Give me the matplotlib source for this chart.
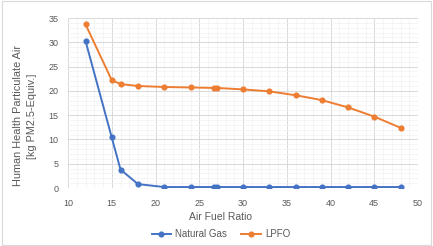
import matplotlib
matplotlib.use("Agg")
import matplotlib.pyplot as plt
from matplotlib.ticker import MultipleLocator

air_fuel = [12, 15, 16, 18, 21, 24, 26.7, 27, 30, 33, 36, 39, 42, 45, 48]
natural_gas = [30.3, 10.4, 3.8, 0.8, 0.2, 0.2, 0.2, 0.2, 0.2, 0.2, 0.2, 0.2, 0.2, 0.2, 0.2]
lpfo = [33.7, 22.2, 21.4, 21.0, 20.8, 20.7, 20.6, 20.6, 20.3, 19.9, 19.1, 18.1, 16.6, 14.7, 12.4]

plt.rcParams['font.family'] = ['Liberation Sans', 'DejaVu Sans']

fig = plt.figure(figsize=(4.33, 2.46), dpi=100)
fig.patch.set_facecolor('white')
ax = fig.add_axes([68/433, 1 - 188/246, 350/433, 170/246])

ax.plot(air_fuel, natural_gas, color='#4472c4', marker='o', markersize=3.4, linewidth=1.4, label='Natural Gas')
ax.plot(air_fuel, lpfo, color='#ed7d31', marker='o', markersize=3.4, linewidth=1.4, label='LPFO')

ax.set_xlim(10, 50)
ax.set_ylim(0, 35)
ax.xaxis.set_major_locator(MultipleLocator(5))
ax.yaxis.set_major_locator(MultipleLocator(5))
ax.xaxis.set_minor_locator(MultipleLocator(1))
ax.yaxis.set_minor_locator(MultipleLocator(1))
ax.grid(which='major', color='#d9d9d9', linewidth=0.7)
ax.grid(which='minor', color='#f2f2f2', linewidth=0.5)
ax.set_axisbelow(True)
for s in ax.spines.values():
    s.set_visible(False)
ax.tick_params(which='both', length=0, labelsize=6.5, colors='#595959')
ax.tick_params(axis='x', pad=8)
ax.tick_params(axis='y', pad=7)

fig.text(220/433, 1 - 217/246, 'Air Fuel Ratio', fontsize=7.5, color='#595959',
         ha='center', va='center')
fig.text(25/433, 1 - 116/246, 'Human Health Particulate Air\n[kg PM2.5-Equiv.]', fontsize=7.8,
         color='#595959', ha='center', va='center', rotation=90, linespacing=1.45,
         multialignment='center')

fig.legend(loc='center', bbox_to_anchor=(0.51, 1 - 234/246), ncol=2, frameon=False,
           fontsize=7, labelcolor='#595959', handlelength=2.0, columnspacing=1.5,
           borderaxespad=0, handletextpad=0.4)

border = plt.Rectangle((0.004, 0.004), 0.992, 0.99, transform=fig.transFigure, fill=False,
                       edgecolor='#d9d9d9', linewidth=0.8)
fig.add_artist(border)

fig.savefig('out.png', dpi=100)
